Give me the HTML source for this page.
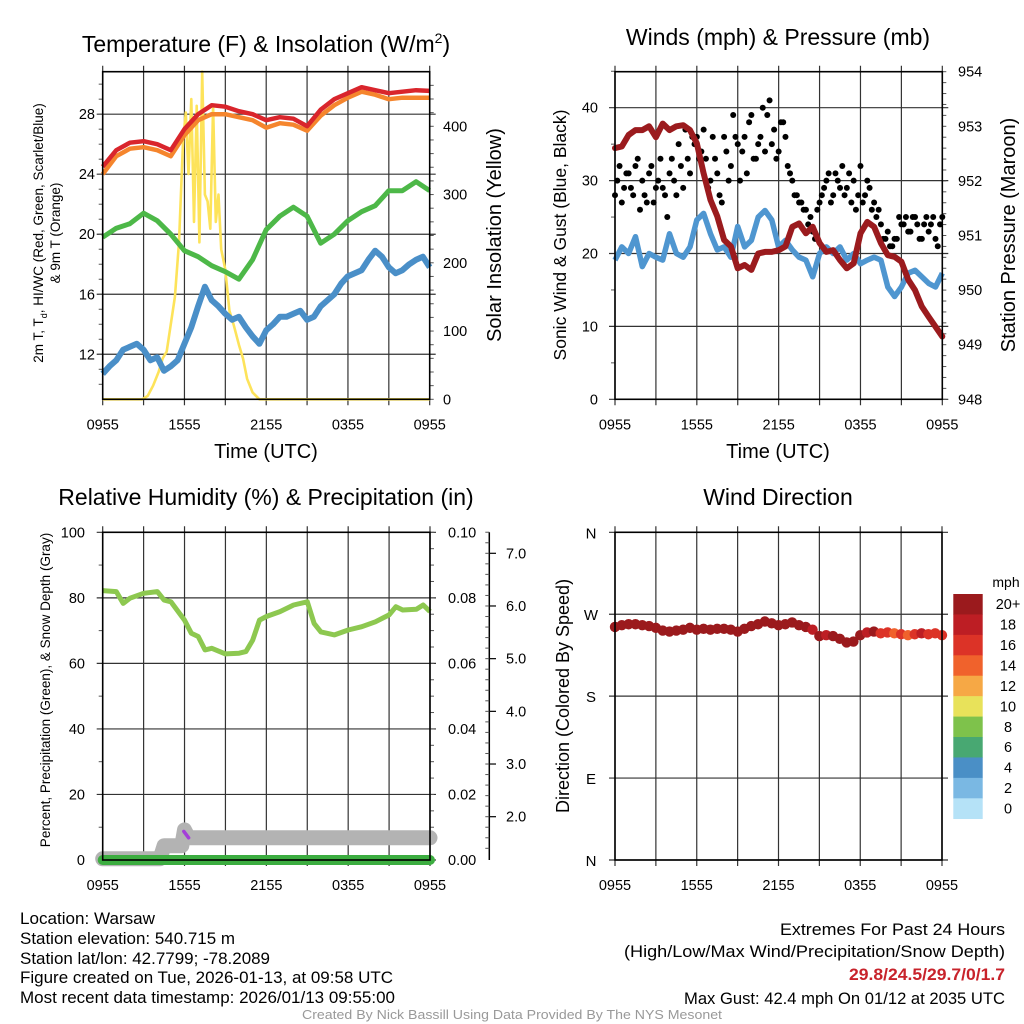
<!DOCTYPE html>
<html><head><meta charset="utf-8"><title>Warsaw Mesonet</title>
<style>
html,body{margin:0;padding:0;background:#fff;}
svg{display:block;font-family:"Liberation Sans",Arial,sans-serif;}
</style></head>
<body>
<svg id="chart" width="1024" height="1024" viewBox="0 0 1024 1024" xmlns="http://www.w3.org/2000/svg">
<rect x="0" y="0" width="1024" height="1024" fill="#fff"/>
<g id="layer"></g>
<!-- titles -->
<text x="266" y="52" font-size="23" text-anchor="middle">Temperature (F) &amp; Insolation (W/m<tspan dy="-9" font-size="14">2</tspan><tspan dy="9">)</tspan></text>
<text x="778" y="45" font-size="23" text-anchor="middle">Winds (mph) &amp; Pressure (mb)</text>
<text x="266" y="505" font-size="23" text-anchor="middle">Relative Humidity (%) &amp; Precipitation (in)</text>
<text x="778" y="505" font-size="23" text-anchor="middle">Wind Direction</text>
<!-- axis titles -->
<text x="266" y="458" font-size="20" text-anchor="middle">Time (UTC)</text>
<text x="778" y="458" font-size="20" text-anchor="middle">Time (UTC)</text>
<text transform="translate(43,233) rotate(-90)" font-size="13.5" text-anchor="middle">2m T, T<tspan dy="4" font-size="9">d</tspan><tspan dy="-4">, HI/WC (Red, Green, Scarlet/Blue)</tspan></text>
<text transform="translate(60,233) rotate(-90)" font-size="13.5" text-anchor="middle">&amp; 9m T (Orange)</text>
<text transform="translate(501,235) rotate(-90)" font-size="20" text-anchor="middle">Solar Insolation (Yellow)</text>
<text transform="translate(566,235) rotate(-90)" font-size="17.5" text-anchor="middle">Sonic Wind &amp; Gust (Blue, Black)</text>
<text transform="translate(1015,235) rotate(-90)" font-size="20" text-anchor="middle">Station Pressure (Maroon)</text>
<text transform="translate(50,690) rotate(-90)" font-size="13.5" text-anchor="middle">Percent, Precipitation (Green), &amp; Snow Depth (Gray)</text>
<text transform="translate(569,696) rotate(-90)" font-size="18" text-anchor="middle">Direction (Colored By Speed)</text>
<text x="1006" y="587" font-size="14" text-anchor="middle">mph</text>
<!-- footer -->
<g font-size="17">
<text x="20" y="924" textLength="135" lengthAdjust="spacingAndGlyphs">Location: Warsaw</text>
<text x="20" y="944" textLength="215" lengthAdjust="spacingAndGlyphs">Station elevation: 540.715 m</text>
<text x="20" y="964" textLength="250" lengthAdjust="spacingAndGlyphs">Station lat/lon: 42.7799; -78.2089</text>
<text x="20" y="983" textLength="373" lengthAdjust="spacingAndGlyphs">Figure created on Tue, 2026-01-13, at 09:58 UTC</text>
<text x="20" y="1003" textLength="375" lengthAdjust="spacingAndGlyphs">Most recent data timestamp: 2026/01/13 09:55:00</text>
</g>
<g font-size="17">
<text x="780" y="935" textLength="225" lengthAdjust="spacingAndGlyphs">Extremes For Past 24 Hours</text>
<text x="624" y="957" textLength="381" lengthAdjust="spacingAndGlyphs">(High/Low/Max Wind/Precipitation/Snow Depth)</text>
<text x="849" y="980" textLength="156" lengthAdjust="spacingAndGlyphs" fill="#c8232b" font-weight="bold">29.8/24.5/29.7/0/1.7</text>
<text x="684" y="1004" textLength="321" lengthAdjust="spacingAndGlyphs">Max Gust: 42.4 mph On 01/12 at 2035 UTC</text>
</g>
<text x="512" y="1019" font-size="12.5" fill="#999" text-anchor="middle" textLength="420" lengthAdjust="spacingAndGlyphs">Created By Nick Bassill Using Data Provided By The NYS Mesonet</text>
</svg>
<script>
// ---------- data ----------
const hours = [0,1,2,3,4,5,6,7,8,9,10,11,12,13,14,15,16,17,18,19,20,21,22,23,24];
const halfHours = [0,0.5,1,1.5,2,2.5,3,3.5,4,4.5,5,5.5,6,6.5,7,7.5,8,8.5,9,9.5,10,10.5,11,11.5,12,12.5,13,13.5,14,14.5,15,15.5,16,16.5,17,17.5,18,18.5,19,19.5,20,20.5,21,21.5,22,22.5,23,23.5,24];
const timeTickLabels = ['0955','1555','2155','0355','0955'];
const tempValues = [24.5,25.6,26.1,26.2,26.0,25.6,27.0,28.0,28.6,28.5,28.2,28.0,27.6,27.8,27.7,27.2,28.3,29.0,29.4,29.8,29.6,29.4,29.5,29.6,29.55];
const temp9mValues = [24.0,25.2,25.7,25.8,25.6,25.2,26.6,27.6,28.0,28.0,27.8,27.6,27.1,27.4,27.3,26.9,27.9,28.6,29.1,29.5,29.3,29.0,29.1,29.1,29.1];
const dewpointValues = [19.8,20.4,20.7,21.4,20.9,20.0,18.9,18.5,17.9,17.5,17.0,18.3,20.3,21.2,21.8,21.2,19.4,20.0,20.9,21.5,21.9,22.9,22.9,23.5,22.9];
const windChillValues = [10.7,11.2,11.6,12.3,12.5,12.7,12.3,11.6,11.8,10.9,11.2,11.6,12.7,13.8,15.2,16.5,15.6,15.2,14.7,14.3,14.5,13.8,13.2,12.7,13.6,14.0,14.5,14.5,14.7,14.9,14.3,14.5,15.2,15.6,16.0,16.7,17.2,17.4,17.6,18.3,18.9,18.5,17.8,17.4,17.6,18.0,18.3,18.5,17.8];
const solarTimes = [0,2.9,3.3,3.7,4.1,4.4,4.7,5.0,5.3,5.6,5.9,6.1,6.3,6.5,6.7,6.9,7.1,7.3,7.5,7.7,7.9,8.1,8.3,8.5,8.7,9.0,9.3,9.6,10.0,10.3,10.6,11.0,11.5,24];
const solarValues = [0,0,5,20,40,60,70,110,150,230,380,420,330,440,260,430,230,480,300,290,250,430,260,300,220,190,130,110,80,60,30,10,0,0];
const tempTicks = [12,16,20,24,28];
const solarTicks = [0,100,200,300,400];

const sonicWindValues = [19.1,20.9,20,22.3,18.2,20,19.5,19.1,22.7,20,19.5,20.9,24.6,25.5,22.7,20.5,20.9,19.5,23.7,20.9,21.8,25,25.9,24.6,20.9,21.8,20.5,19.5,19.1,16.8,20,20.9,20,20.9,19.1,20,18.6,19.1,19.5,19.1,15.4,14.1,15.4,17.3,17.7,16.8,15.9,15.4,17.3];
const gustValuesA = [28,32,29,31,28,33,30,27,32,29,33,28,31,30,35,29,33,36,36,34,33,30,33,28,36,30,39,35,34,31,39,33,36,34,41,37,34,38,32,30,28,27,26,25,22,27,29,31,28,30,32,29,27,26,32,28,29,27,26,22,23,21,22,24,25,23,25,22,24,23,25,21,25];
const gustValuesB = [30,27,31,29,32,26,28,31,27,30,29,25,33,28,32,37,31,35,33,37,29,36,31,27,34,32,36,30,36,38,33,35,40,39,35,33,38,36,31,28,27,26,24,23,26,28,30,27,31,29,28,31,30,28,27,30,26,25,24,22,21,22,25,24,23,25,24,22,25,24,22,24];
const pressureValues = [952.6,952.63,952.84,952.93,952.93,953.0,952.8,953.05,952.93,953.0,953.02,952.93,952.69,952.14,951.65,951.35,950.92,950.8,950.4,950.46,950.37,950.67,950.7,950.7,950.73,950.8,951.16,951.22,951.04,951.16,950.86,950.7,950.73,950.55,950.4,950.49,951.04,951.25,951.16,950.86,950.64,950.61,950.52,950.19,950.0,949.7,949.51,949.33,949.15];
const windTicks = [0,10,20,30,40];
const pressureTicks = [948,949,950,951,952,953,954];

const rhTimes = [0,1,1.5,2,3,4,4.5,5,6,6.5,7,7.5,8,9,10,10.5,11,11.5,12,13,14,15,15.5,16,17,18,19,20,21,21.5,22,23,23.5,24];
const rhValues = [82.2,81.9,78.3,79.9,81.4,81.9,79.3,78.8,73.2,69.2,68.2,64.1,64.6,62.9,63.1,63.6,67.1,73.2,74.3,75.8,77.8,78.8,72.2,69.6,68.7,70.2,71.2,72.7,74.8,77.3,76.3,76.5,77.8,75.8];
const precipValues = [0,0,0,0,0,0,0,0,0,0,0,0,0,0,0,0,0,0,0,0,0,0,0,0,0];
const snowTimes = [0,4.2,4.5,5.8,6.0,6.3,24];
const snowValues = [1.2,1.2,1.45,1.45,1.75,1.6,1.6];
const pctTicks = [0,20,40,60,80,100];
const precipTicks = ['0.00','0.02','0.04','0.06','0.08','0.10'];
const snowTicks = [2,3,4,5,6,7];

const directionValues = [256,258,259,259,258,257,255,252,251,252,253,255,253,254,253,254,254,253,251,254,257,259,262,260,258,259,261,258,256,253,246,247,246,243,239,240,247,250,251,249,250,249,248,247,248,249,248,249,247];
const directionSpeeds = [22,22,22,22,22,22,22,22,22,22,22,22,22,22,22,22,22,22,22,22,22,22,22,22,22,22,22,22,22,18,21,19,21,22,22,22,21,18,21,17,16,15,17,14,16,18,17,16,17];
const dirTickLabels = ['N','E','S','W','N'];
const dirTicks = [0,90,180,270,360];
const speedLevels = ['0','2','4','6','8','10','12','14','16','18','20+'];
const speedColors = ['#b5e2f7','#7ab8e3','#4a8fc6','#48a872','#7ec24b','#e8e25a','#f6a845','#f0622c','#dc3327','#bd1e24','#9b1a1d'];

// ---------- helpers ----------
const NS = 'http://www.w3.org/2000/svg';
const layer = document.getElementById('layer');
function mk(tag, a, parent){ const e=document.createElementNS(NS,tag); for(const k in a) e.setAttribute(k,a[k]); (parent||layer).appendChild(e); return e; }
function lin(d0,d1,r0,r1){ return v => r0 + (v-d0)/(d1-d0)*(r1-r0); }
function pathD(xs, ys, sx, sy){ return xs.map((x,i)=>(i?'L':'M')+sx(x).toFixed(1)+','+sy(ys[i]).toFixed(1)).join(''); }

function frame(P, name){
  const g = mk('g',{});
  
  
  for(let h=0; h<=24; h+=3){
    const x = P.sx(h);
    const l = mk('line',{x1:x,x2:x,y1:P.y0-6,y2:P.y1+6,stroke:'#333','stroke-width':1.2},g);
    
    
  }
  timeTickLabels.forEach((t,i)=>{
    const tx = mk('text',{x:P.sx(i*6),y:P.y1+30,'font-size':14.5,'text-anchor':'middle'},g);
    tx.textContent = t;
    
    
  });
  return g;
}
function border(P, name){
  const r = mk('rect',{x:P.x0,y:P.y0,width:P.x1-P.x0,height:P.y1-P.y0,fill:'none',stroke:'#000','stroke-width':1.6});
  
  
}
function hgrid(P, ticks, sy, g){
  ticks.forEach(v=>{
    const l = mk('line',{x1:P.x0-6,x2:P.x1+6,y1:sy(v),y2:sy(v),stroke:'#333','stroke-width':1.2},g);
    
    
  });
}
function yLabels(ticks, sy, x, anchor, fmt, g, nm){
  ticks.forEach(v=>{
    const t = mk('text',{x:x,y:sy(v)+5,'font-size':14.5,'text-anchor':anchor},g);
    t.textContent = fmt? fmt(v): v;
    
    
  });
}
function minor(x, from, to, step, sy, dir, g){
  for(let v=from; v<=to+1e-9; v+=step){
    const l = mk('line',{x1:x,x2:x+dir*4,y1:sy(v),y2:sy(v),stroke:'#555','stroke-width':1},g);
    
    
  }
}

// ---------- panel 1 ----------
const P1 = {x0:102.7,x1:429.7,y0:71.7,y1:399.3};
P1.sx = lin(0,24,P1.x0,P1.x1);
const t1 = lin(9,30.83,P1.y1,P1.y0);
const s1 = lin(0,480,P1.y1,P1.y0);
const g1 = frame(P1,'temperature');
hgrid(P1,tempTicks,t1,g1);
yLabels(tempTicks,t1,95,'end',null,g1,'temperature-y-tick-label');
yLabels(solarTicks,s1,443,'start',null,g1,'solar-y-tick-label');
minor(P1.x0,10,30,1,t1,-1,g1);
minor(P1.x1,0,460,20,s1,1,g1);
const solarLine = mk('path',{d:pathD(solarTimes,solarValues,P1.sx,s1),fill:'none',stroke:'#fde35a','stroke-width':2.6,'stroke-linejoin':'round'});


const wcLine = mk('path',{d:pathD(halfHours,windChillValues,P1.sx,t1),fill:'none',stroke:'#4a8fc8','stroke-width':6,'stroke-linejoin':'round'});


const tdLine = mk('path',{d:pathD(hours,dewpointValues,P1.sx,t1),fill:'none',stroke:'#4db848','stroke-width':5,'stroke-linejoin':'round'});


const t9Line = mk('path',{d:pathD(hours,temp9mValues,P1.sx,t1),fill:'none',stroke:'#f5852d','stroke-width':4.5,'stroke-linejoin':'round'});


const tLine = mk('path',{d:pathD(hours,tempValues,P1.sx,t1),fill:'none',stroke:'#d9252c','stroke-width':4.5,'stroke-linejoin':'round'});


border(P1,'temperature');

// ---------- panel 2 ----------
const P2 = {x0:615,x1:942.3,y0:71.7,y1:399.3};
P2.sx = lin(0,24,P2.x0,P2.x1);
const w2 = lin(0,44.94,P2.y1,P2.y0);
const p2 = lin(948,954,P2.y1,P2.y0);
const g2 = frame(P2,'winds');
hgrid(P2,windTicks,w2,g2);
yLabels(windTicks,w2,598,'end',null,g2,'wind-y-tick-label');
yLabels(pressureTicks,p2,958,'start',null,g2,'pressure-y-tick-label');
minor(P2.x0,5,45,10,w2,-1,g2);
minor(P2.x1,948,954,0.2,p2,1,g2);
const sonicLine = mk('path',{d:pathD(halfHours,sonicWindValues,P2.sx,w2),fill:'none',stroke:'#4f96d0','stroke-width':5.5,'stroke-linejoin':'round'});


gustValuesA.forEach((v,i)=>{
  const c = mk('circle',{cx:P2.sx(i/3),cy:w2(v),r:3,fill:'#000'});
  
  
});
gustValuesB.forEach((v,i)=>{
  const c = mk('circle',{cx:P2.sx(i/3+1/6),cy:w2(v),r:3,fill:'#000'});
  
  
});
const presLine = mk('path',{d:pathD(halfHours,pressureValues,P2.sx,p2),fill:'none',stroke:'#9b1b1e','stroke-width':6,'stroke-linejoin':'round','stroke-linecap':'round'});


border(P2,'winds');

// ---------- panel 3 ----------
const P3 = {x0:102.7,x1:430,y0:532.3,y1:860};
P3.sx = lin(0,24,P3.x0,P3.x1);
const r3 = lin(0,100,P3.y1,P3.y0);
const pr3 = lin(0,0.1,P3.y1,P3.y0);
const sn3 = lin(2,7,816.7,553.3);
const g3 = frame(P3,'humidity');
hgrid(P3,pctTicks,r3,g3);
yLabels(pctTicks,r3,85,'end',null,g3,'percent-y-tick-label');
yLabels(precipTicks.map(Number),pr3,448,'start',v=>v.toFixed(2),g3,'precip-y-tick-label');
yLabels(snowTicks,sn3,506,'start',v=>v.toFixed(1),g3,'snow-y-tick-label');
minor(P3.x0,10,90,20,r3,-1,g3);
minor(P3.x1,0,0.1,0.005,pr3,1,g3);
const snowAxis = mk('line',{x1:489.3,x2:489.3,y1:532.3,y2:860,stroke:'#000','stroke-width':1.5},g3);


minor(489.3,1.4,7.4,0.2,sn3,-1,g3);
snowTicks.forEach(v=>{
  const l = mk('line',{x1:489.3,x2:496,y1:sn3(v),y2:sn3(v),stroke:'#000','stroke-width':1.2},g3);
  
  
});
const snowLine = mk('path',{d:pathD(snowTimes,snowValues,P3.sx,sn3),fill:'none',stroke:'#b3b3b3','stroke-width':15,'stroke-linejoin':'round','stroke-linecap':'round'});


const snowfall = mk('path',{d:'M'+P3.sx(5.95)+','+sn3(1.72)+'L'+P3.sx(6.3)+','+sn3(1.6),fill:'none',stroke:'#a43ed8','stroke-width':3.5,'stroke-linecap':'round'});


const precipLine = mk('path',{d:pathD(hours,precipValues,P3.sx,pr3),fill:'none',stroke:'#3cad40','stroke-width':10,'stroke-linecap':'round'});


const rhLine = mk('path',{d:pathD(rhTimes,rhValues,P3.sx,r3),fill:'none',stroke:'#8dc850','stroke-width':5,'stroke-linejoin':'round'});


border(P3,'humidity');

// ---------- panel 4 ----------
const P4 = {x0:615,x1:942,y0:532.3,y1:860};
P4.sx = lin(0,24,P4.x0,P4.x1);
const d4 = lin(0,360,P4.y1,P4.y0);
const g4 = frame(P4,'direction');
hgrid(P4,dirTicks,d4,g4);
dirTicks.forEach((v,i)=>{
  const t = mk('text',{x:591,y:d4(v)+6,'font-size':15,'text-anchor':'middle'},g4);
  t.textContent = dirTickLabels[i];
  
  
});
function speedColor(s){ let k=Math.floor(s/2); if(k>10)k=10; if(k<0)k=0; return speedColors[k]; }
directionValues.forEach((v,i)=>{
  const c = mk('circle',{cx:P4.sx(halfHours[i]),cy:d4(v),r:5.2,fill:speedColor(directionSpeeds[i])});
  
  
});
border(P4,'direction');
// colorbar
const cbTop = 594, cbH = 20.43;
speedLevels.forEach((lab,i)=>{
  const k = speedLevels.length-1-i;
  const r = mk('rect',{x:953.3,y:cbTop+i*cbH,width:29.4,height:cbH+0.3,fill:speedColors[k]});
  
  
  const t = mk('text',{x:1008,y:cbTop+i*cbH+cbH/2+5,'font-size':14.5,'text-anchor':'middle'});
  t.textContent = speedLevels[k];
  
  
});
</script>
</body></html>
